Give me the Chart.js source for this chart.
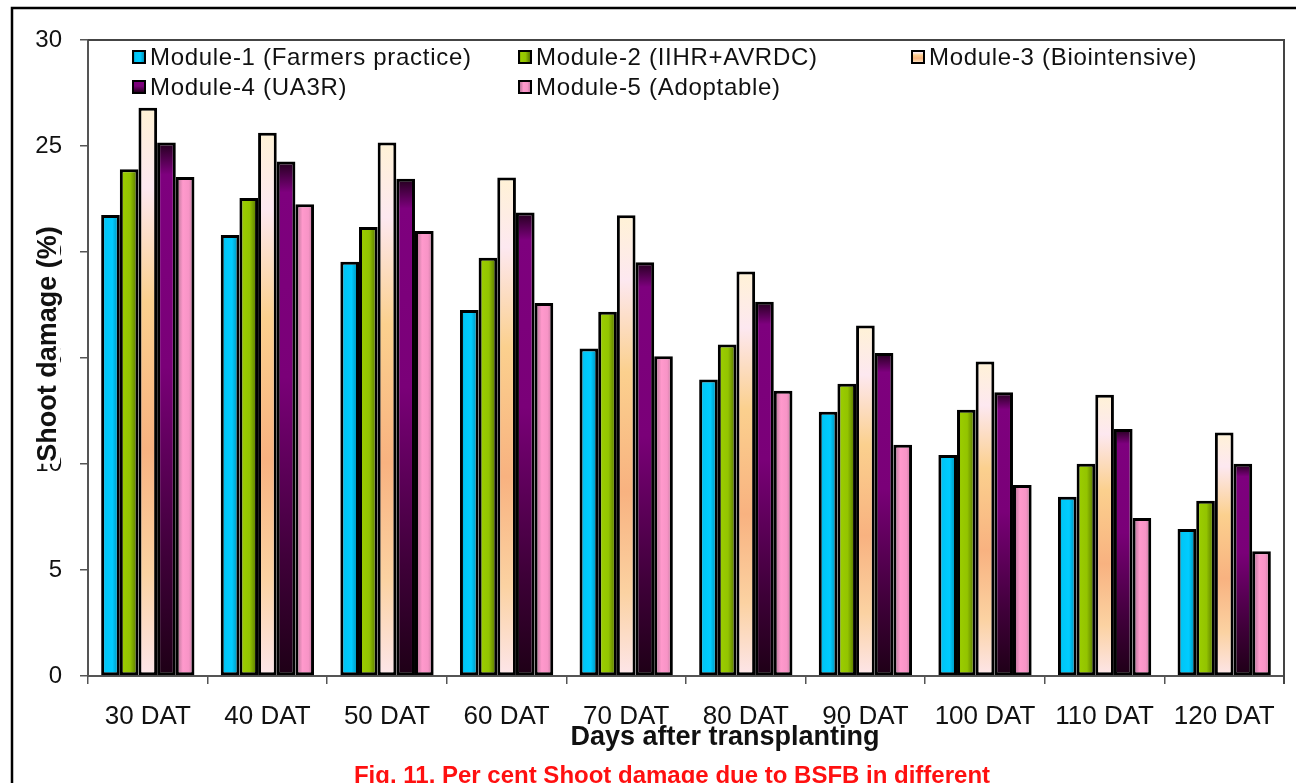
<!DOCTYPE html>
<html>
<head>
<meta charset="utf-8">
<script src="https://cdn.jsdelivr.net/npm/chart.js@4.4.1/dist/chart.umd.min.js"></script>
<style>
  html, body { margin: 0; padding: 0; background: #fff; overflow: hidden; }
  #wrap { width: 1296px; height: 783px; position: relative; }
</style>
</head>
<body>
<div id="wrap"><canvas id="c" width="1296" height="783"></canvas></div>
<script>
// Per cent shoot damage by BSFB, five IPM modules, 30-120 days after transplanting
const categories = ['30 DAT', '40 DAT', '50 DAT', '60 DAT', '70 DAT', '80 DAT', '90 DAT', '100 DAT', '110 DAT', '120 DAT'];
const moduleNames = [
  'Module-1 (Farmers practice)',
  'Module-2 (IIHR+AVRDC)',
  'Module-3 (Biointensive)',
  'Module-4 (UA3R)',
  'Module-5 (Adoptable)'
];
const module1 = [21.75, 20.80, 19.54, 17.26, 15.45, 13.98, 12.46, 10.43, 8.46, 6.93];
const module2 = [23.90, 22.55, 21.18, 19.73, 17.18, 15.64, 13.79, 12.56, 10.01, 8.27];
const module3 = [26.80, 25.63, 25.16, 23.51, 21.73, 19.08, 16.53, 14.83, 13.27, 11.49];
const module4 = [25.16, 24.27, 23.46, 21.86, 19.52, 17.65, 15.24, 13.38, 11.65, 10.01];
const module5 = [23.54, 22.25, 20.99, 17.60, 15.08, 13.46, 10.91, 9.01, 7.45, 5.89];
const yTicks = [0, 5, 10, 15, 20, 25, 30];

const FONT = '"Liberation Sans", Arial, Helvetica, sans-serif';
const CAT_PCT = 0.78;

// geometry of one bar, worked out from the scales
function barGeom(c) {
  if (c.type !== 'data') return null;
  const chart = c.chart, xs = chart.scales.x, ys = chart.scales.y;
  if (!xs || !ys || !xs.width) return null;
  const n = chart.data.datasets.length;
  const cw = xs.width / chart.data.labels.length;
  const gw = cw * CAT_PCT, bw = gw / n;
  const cx = xs.getPixelForValue(c.dataIndex);
  const left = cx - gw / 2 + bw * c.datasetIndex;
  return { left, right: left + bw, top: ys.getPixelForValue(c.raw), base: ys.getPixelForValue(0) };
}
function hGrad(stops, flat) {
  return c => {
    const g = barGeom(c);
    if (!g) return flat;
    const gr = c.chart.ctx.createLinearGradient(g.left, 0, g.right, 0);
    stops.forEach(s => gr.addColorStop(s[0], s[1]));
    return gr;
  };
}
function vGrad(stops, flat) {
  return c => {
    const g = barGeom(c);
    if (!g) return flat;
    const gr = c.chart.ctx.createLinearGradient(0, g.top, 0, g.base);
    stops.forEach(s => gr.addColorStop(s[0], s[1]));
    return gr;
  };
}

const fills = [
  { stops: [[0, '#0a8fb0'], [0.22, '#00c6f6'], [0.6, '#00ccff'], [1, '#0082a6']], dir: 'h', flat: '#00ccff' },
  { stops: [[0, '#6f8f00'], [0.2, '#9acc00'], [0.55, '#93c400'], [1, '#4c6600']], dir: 'h', flat: '#99cc00' },
  { stops: [[0, '#fff2d6'], [0.14, '#fde8f0'], [0.34, '#fbd08e'], [0.6, '#f8b280'], [0.82, '#fbd2a2'], [1, '#fde6ea']], dir: 'v', flat: '#fcc890' },
  { stops: [[0, '#22001c'], [0.06, '#7e007e'], [0.42, '#7a0078'], [0.78, '#3e0038'], [1, '#1e0016']], dir: 'v', flat: '#800080' },
  { stops: [[0, '#a46c8a'], [0.38, '#ff99cc'], [0.7, '#f794c6'], [1, '#b87496']], dir: 'h', flat: '#ff99cc' }
];
const seriesValues = [module1, module2, module3, module4, module5];

const datasets = seriesValues.map((vals, i) => ({
  label: moduleNames[i],
  data: vals,
  backgroundColor: fills[i].dir === 'h' ? hGrad(fills[i].stops, fills[i].flat) : vGrad(fills[i].stops, fills[i].flat),
  borderColor: '#000',
  borderWidth: 3,
  borderSkipped: false,
  categoryPercentage: CAT_PCT,
  barPercentage: 1.0
}));

// page frame, plot box (top and right edges)
const framePlugin = {
  id: 'frame',
  beforeDraw(chart) {
    const ctx = chart.ctx;
    ctx.save();
    ctx.fillStyle = '#fff';
    ctx.fillRect(0, 0, chart.width, chart.height);
    ctx.strokeStyle = '#000';
    ctx.lineWidth = 2.5;
    ctx.beginPath();
    ctx.moveTo(12, chart.height + 5);
    ctx.lineTo(12, 8);
    ctx.lineTo(chart.width + 5, 8);
    ctx.stroke();
    ctx.restore();
  },
  afterDraw(chart) {
    const ctx = chart.ctx, a = chart.chartArea;
    ctx.save();
    ctx.strokeStyle = '#444';
    ctx.lineWidth = 2;
    ctx.beginPath();
    ctx.moveTo(a.left, a.top);
    ctx.lineTo(a.right, a.top);
    ctx.lineTo(a.right, a.bottom + 8);
    ctx.stroke();
    ctx.restore();
  }
};

// legend laid out in three columns inside the plot
const legendPlugin = {
  id: 'gridLegend',
  afterDraw(chart) {
    const ctx = chart.ctx;
    const colX = [133, 519, 912];
    const rowY = [57, 87];
    ctx.save();
    ctx.font = '24px ' + FONT;
    if ('letterSpacing' in ctx) ctx.letterSpacing = '0.7px';
    ctx.textBaseline = 'middle';
    ctx.textAlign = 'left';
    chart.data.datasets.forEach((ds, i) => {
      const x = colX[i % 3], y = rowY[Math.floor(i / 3)];
      const f = fills[i];
      const gr = f.dir === 'h' ? ctx.createLinearGradient(x, 0, x + 12, 0) : ctx.createLinearGradient(0, y - 6, 0, y + 6);
      f.stops.forEach(s => gr.addColorStop(s[0], s[1]));
      ctx.fillStyle = gr;
      ctx.fillRect(x, y - 6, 12, 12);
      ctx.strokeStyle = '#000';
      ctx.lineWidth = 2;
      ctx.strokeRect(x, y - 6, 12, 12);
      ctx.fillStyle = '#111';
      ctx.fillText(ds.label, x + 17, y + 1);
    });
    ctx.restore();
  }
};

// axis titles and figure caption
const titlesPlugin = {
  id: 'titles',
  afterDraw(chart) {
    const ctx = chart.ctx;
    ctx.save();
    // y title, rotated
    ctx.translate(48, 344);
    ctx.rotate(-Math.PI / 2);
    ctx.font = 'bold 27px ' + FONT;
    const yt = 'Shoot damage (%)';
    const w = ctx.measureText(yt).width;
    ctx.fillStyle = '#fff';
    ctx.fillRect(-w / 2 - 2, -12, w + 4, 24);
    ctx.fillStyle = '#111';
    ctx.textAlign = 'center';
    ctx.textBaseline = 'middle';
    ctx.fillText(yt, 0, 1);
    ctx.restore();

    ctx.save();
    ctx.font = 'bold 27px ' + FONT;
    ctx.fillStyle = '#111';
    ctx.textAlign = 'center';
    ctx.textBaseline = 'alphabetic';
    ctx.fillText('Days after transplanting', 725, 745);
    ctx.font = 'bold 24px ' + FONT;
    ctx.fillStyle = '#ff1010';
    ctx.fillText('Fig. 11. Per cent Shoot damage due to BSFB in different', 672, 783);
    ctx.restore();
  }
};

new Chart(document.getElementById('c'), {
  type: 'bar',
  data: { labels: categories, datasets },
  options: {
    responsive: false,
    animation: false,
    devicePixelRatio: 1,
    layout: { padding: { left: 0, top: 40, right: 12, bottom: 0 } },
    plugins: {
      legend: { display: false },
      tooltip: { enabled: false },
      title: { display: false }
    },
    scales: {
      x: {
        offset: true,
        grid: { offset: true, drawOnChartArea: false, drawTicks: true, tickLength: 8, color: '#555', lineWidth: 1.5 },
        border: { display: true, color: '#555', width: 2 },
        ticks: { color: '#111', font: { family: FONT, size: 26 }, padding: 17, maxRotation: 0, autoSkip: false },
        afterFit(s) { s.height = 107; }
      },
      y: {
        min: yTicks[0],
        max: yTicks[yTicks.length - 1],
        afterBuildTicks(s) { s.ticks = yTicks.map(v => ({ value: v })); },
        grid: { drawOnChartArea: false, drawTicks: true, tickLength: 8, color: '#555', lineWidth: 1.5 },
        border: { display: true, color: '#555', width: 2 },
        ticks: { color: '#111', font: { family: FONT, size: 24 }, padding: 18 },
        afterFit(s) { s.width = 88; }
      }
    }
  },
  plugins: [framePlugin, legendPlugin, titlesPlugin]
});
</script>
</body>
</html>
